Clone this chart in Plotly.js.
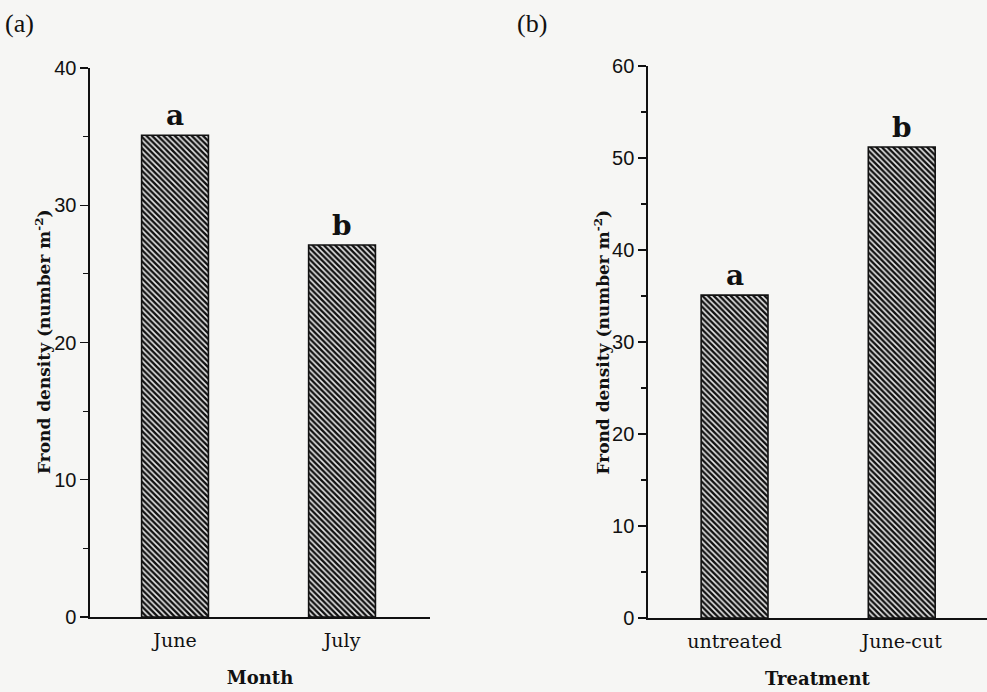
<!DOCTYPE html>
<html>
<head>
<meta charset="utf-8">
<script src="https://cdn.plot.ly/plotly-3.0.1.min.js"></script>
<style>
  html, body { margin: 0; padding: 0; background: #f6f6f4; }
  #chart { width: 987px; height: 692px; }
</style>
</head>
<body>
<div id="chart"></div>
<script>
// Panel (a): frond density by month
const months = ['June', 'July'];
const monthDensity = [35.1, 27.1];
const monthLetters = ['a', 'b'];

// Panel (b): frond density by treatment
const treatments = ['untreated', 'June-cut'];
const treatmentDensity = [35.1, 51.2];
const treatmentLetters = ['a', 'b'];

const yTitle = '<b>Frond density (number m<sup>-2</sup>)</b>';
const serif = 'DejaVu Serif, serif';
const sans = 'Liberation Sans, Arial, sans-serif';

const hatch = {
  shape: '\\',
  fgcolor: '#111',
  bgcolor: '#e8e8e8',
  size: 4,
  solidity: 0.6
};

function bars(x, y, xa, ya) {
  return {
    type: 'bar', x: x, y: y, xaxis: xa, yaxis: ya,
    width: 0.4,
    marker: { color: '#e8e8e8', pattern: hatch, line: { color: '#111', width: 1.6 } },
    hoverinfo: 'x+y', showlegend: false
  };
}

function letters(x, y, t, xa, ya) {
  return x.map((c, i) => ({
    x: c, y: y[i], xref: xa, yref: ya, text: '<b>' + t[i] + '</b>',
    showarrow: false, yanchor: 'bottom', yshift: 1,
    font: { family: serif, size: 28, color: '#111' }
  }));
}

// rotated axis title placed beside the tick labels
function yLabel(xPaper, yPaper) {
  return {
    text: yTitle, xref: 'paper', yref: 'paper', x: xPaper, y: yPaper,
    xanchor: 'center', yanchor: 'middle', textangle: -90, showarrow: false,
    font: { family: serif, size: 17, color: '#111' }
  };
}

function yAxis(domain, max) {
  return {
    domain: domain, range: [0, max], dtick: 10, ticks: 'outside', ticklen: 8,
    tickwidth: 1.4, tickcolor: '#111', showline: true, linecolor: '#111', linewidth: 1.6,
    showgrid: false, zeroline: false,
    minor: { dtick: 5, ticks: 'outside', ticklen: 5, tickwidth: 1.2, tickcolor: '#111', showgrid: false },
    tickfont: { family: sans, size: 20, color: '#111' }
  };
}

function xAxis(domain, range, title) {
  return {
    domain: domain, range: range, type: 'category', showline: true, linecolor: '#111',
    linewidth: 1.6, ticks: '', showgrid: false, zeroline: false,
    ticklabelstandoff: 6,
    tickfont: { family: serif, size: 19, color: '#111' },
    title: { text: title, standoff: 21, font: { family: serif, size: 18, color: '#111', weight: 'bold' } }
  };
}

const data = [
  bars(months, monthDensity, 'x', 'y'),
  bars(treatments, treatmentDensity, 'x2', 'y2')
];

const panelFont = { family: 'Liberation Serif, Times New Roman, serif', size: 26, color: '#111' };

const layout = {
  width: 987, height: 692,
  margin: { l: 0, r: 0, t: 0, b: 0 },
  paper_bgcolor: '#f6f6f4', plot_bgcolor: 'rgba(0,0,0,0)',
  xaxis: Object.assign(xAxis([0.0912, 0.4357], [-0.509, 1.527], 'Month'), { anchor: 'y' }),
  yaxis: Object.assign(yAxis([0.1084, 0.9017], 40), { anchor: 'x' }),
  xaxis2: Object.assign(xAxis([0.6565, 1.0], [-0.518, 1.51], 'Treatment'), { anchor: 'y2' }),
  yaxis2: Object.assign(yAxis([0.1069, 0.9046], 60), { anchor: 'x2' }),
  annotations: [
    ...letters(months, monthDensity, monthLetters, 'x', 'y'),
    ...letters(treatments, treatmentDensity, treatmentLetters, 'x2', 'y2'),
    yLabel(0.0436, 0.5058),
    yLabel(0.6095, 0.5058),
    { text: '(a)', xref: 'paper', yref: 'paper', x: 0.003, y: 0.99, xanchor: 'left', yanchor: 'top',
      showarrow: false, font: panelFont },
    { text: '(b)', xref: 'paper', yref: 'paper', x: 0.522, y: 0.99, xanchor: 'left', yanchor: 'top',
      showarrow: false, font: panelFont }
  ]
};

Plotly.newPlot('chart', data, layout, { displayModeBar: false, staticPlot: true });
</script>
</body>
</html>
